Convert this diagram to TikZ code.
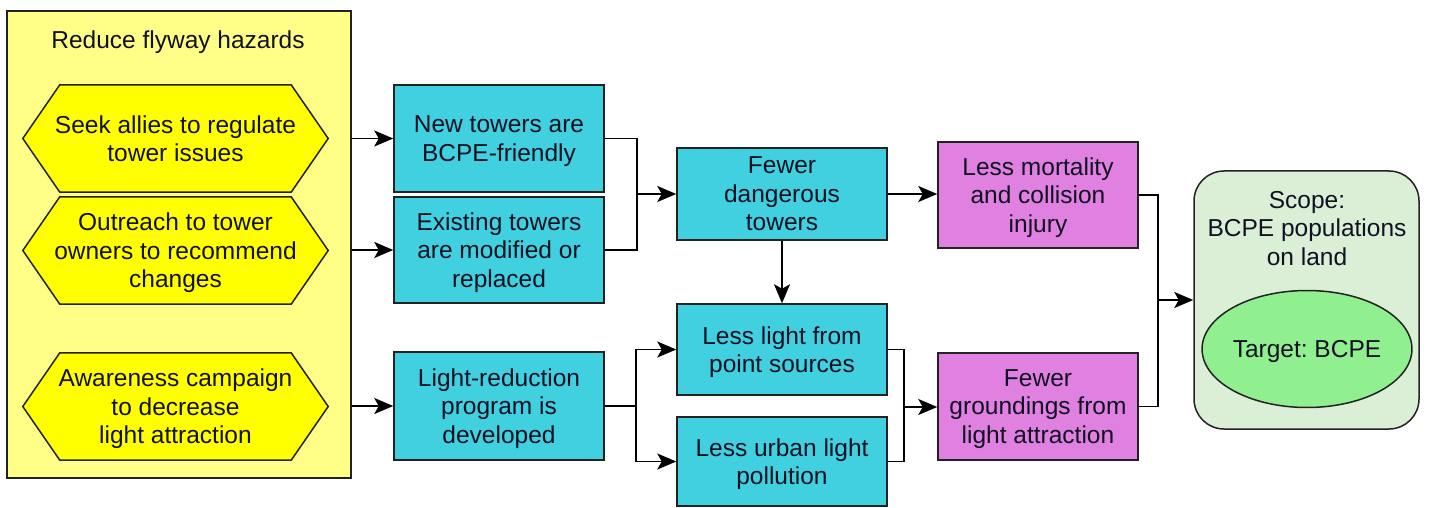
\documentclass[tikz,border=0pt]{standalone}
\usepackage{fontspec}
\setmainfont{Liberation Sans}
\frenchspacing
\usetikzlibrary{arrows.meta,shapes.geometric}
\pgfdeclarelayer{bgzero}
\pgfdeclarelayer{bgone}
\pgfsetlayers{bgzero,bgone,main}
\definecolor{outery}{HTML}{FFFF88}
\definecolor{hexy}{HTML}{FFFF00}
\definecolor{cyanbox}{HTML}{40D0E0}
\definecolor{pinkbox}{HTML}{E080E0}
\definecolor{scopeg}{HTML}{DAEFD6}
\definecolor{targetg}{HTML}{90F090}
\definecolor{txt}{HTML}{111122}
\definecolor{edge}{HTML}{222222}
\tikzset{
  every node/.style={font=\fontsize{24.5}{28.5}\selectfont, text=txt, align=center, inner sep=0pt, text depth=0pt},
  outerbox/.style={draw=edge, line width=1.5pt, fill=outery, minimum width=344pt, minimum height=467pt},
  hexnode/.style={minimum width=305pt, minimum height=107pt},
  hexdraw/.style={draw=edge, line width=1.5pt, fill=hexy, line join=miter},
  bluebox/.style={draw=edge, line width=1.5pt, fill=cyanbox, minimum width=210pt},
  pinkb/.style={draw=edge, line width=1.5pt, fill=pinkbox, minimum width=200pt},
  scopebox/.style={draw=edge, line width=1.5pt, fill=scopeg, rounded corners=30pt, minimum width=225pt, minimum height=258pt},
  targetell/.style={draw=edge, line width=1.5pt, fill=targetg, ellipse, minimum width=196pt, minimum height=117pt},
  conn/.style={draw=black, line width=1.8pt},
  arr/.style={conn, -{Stealth[length=19pt,width=16pt,inset=4.5pt]}}
}
\newcommand{\hexaround}[1]{%
  \begin{pgfonlayer}{bgone}
  \path[hexdraw] (#1.west) -- ([xshift=37pt]#1.north west) -- ([xshift=-37pt]#1.north east)
    -- (#1.east) -- ([xshift=-37pt]#1.south east) -- ([xshift=37pt]#1.south west) -- cycle;
  \end{pgfonlayer}}
\begin{document}
\begin{tikzpicture}[x=1pt,y=-1pt]
\useasboundingbox (0,0) rectangle (1449,508);
% left panel
\begin{pgfonlayer}{bgzero}
\node[outerbox] (outer) at (179,244.5) {};
\end{pgfonlayer}
\node (title) at (178,40) {Reduce flyway hazards};
\node[hexnode] (h1) at (175.5,138.5) {Seek allies to regulate\\tower issues};
\hexaround{h1}
\node[hexnode] (h2) at (175.5,250.5) {Outreach to tower\\owners to recommend\\changes};
\hexaround{h2}
\node[hexnode] (h3) at (175.5,406.5) {Awareness campaign\\to decrease\\light attraction};
\hexaround{h3}
% blue boxes
\node[bluebox, minimum height=107pt] (nb1) at (499,138.5) {New towers are\\BCPE-friendly};
\node[bluebox, minimum height=106pt] (nb2) at (499,250) {Existing towers\\are modified or\\replaced};
\node[bluebox, minimum height=108pt] (nb3) at (499,406) {Light-reduction\\program is\\developed};
\node[bluebox, minimum height=92pt] (fd) at (782,194) {Fewer\\dangerous\\towers};
\node[bluebox, minimum height=91pt] (ll) at (782,349.5) {Less light from\\point sources};
\node[bluebox, minimum height=89pt] (lu) at (782,461.5) {Less urban light\\pollution};
% pink boxes
\node[pinkb, minimum height=106pt] (lm) at (1038,195) {Less mortality\\and collision\\injury};
\node[pinkb, minimum height=107pt] (fg) at (1038,406.5) {Fewer\\groundings from\\light attraction};
% scope
\node[scopebox] (scope) at (1306.5,300) {};
\node (scopetxt) at (1307,228) {Scope:\\BCPE populations\\on land};
\node[targetell] (target) at (1307,349) {Target: BCPE};
% junctions
\coordinate (j1) at (637,194);
\coordinate (j2) at (636,406);
\coordinate (j3) at (904,407);
\coordinate (j4) at (1158,300);
% connectors
\draw[arr] (h1.east -| outer.east) -- (nb1.west);
\draw[arr] (nb2.west -| outer.east) -- (nb2.west);
\draw[arr] (nb3.west -| outer.east) -- (nb3.west);
\draw[conn] (nb1.east) -| (j1);
\draw[conn] (nb2.east) -| (j1);
\draw[arr] (j1) -- (fd.west);
\draw[arr] (fd.east) -- (fd.east -| lm.west);
\draw[arr] (fd.south) -- (ll.north);
\draw[conn] (nb3.east) -- (j2);
\draw[arr] (j2) |- (ll.west);
\draw[arr] (j2) |- (lu.west);
\draw[conn] (ll.east) -| (j3);
\draw[conn] (lu.east) -| (j3);
\draw[arr] (j3) -- (j3 -| fg.west);
\draw[conn] (lm.east) -| (j4);
\draw[conn] (fg.east) -| (j4);
\draw[arr] (j4) -- (scope.west);
\end{tikzpicture}
\end{document}
